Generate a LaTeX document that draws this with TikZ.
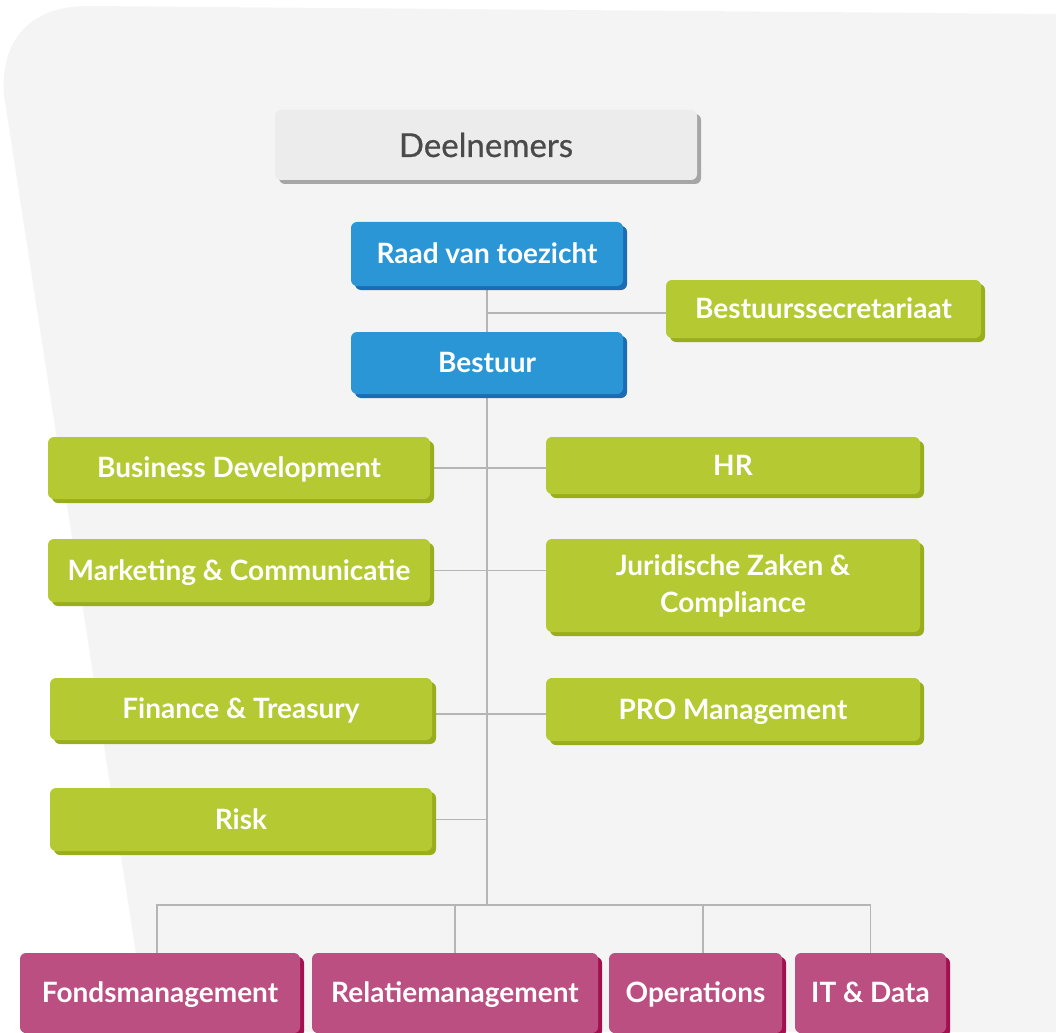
\documentclass[tikz,border=0pt]{standalone}
\usepackage{fontspec}
\setmainfont{Lato}
\newfontface\medfont{Lato}[FakeBold=0.6]
\usetikzlibrary{shadows}
\definecolor{bgc}{HTML}{F4F4F4}
\definecolor{lgreen}{HTML}{B5C932}
\definecolor{dgreen}{HTML}{9AAD1C}
\definecolor{lblue}{HTML}{2A96D6}
\definecolor{dblue}{HTML}{1A6DB5}
\definecolor{lmag}{HTML}{BC4F81}
\definecolor{dmag}{HTML}{A3104F}
\definecolor{lgray}{HTML}{ECECEC}
\definecolor{dgray}{HTML}{A6A6A6}
\definecolor{txtgray}{HTML}{4A4A4A}
\definecolor{linec}{HTML}{B5B5B5}
\pgfdeclarelayer{bg}
\pgfdeclarelayer{lines}
\pgfsetlayers{bg,lines,main}
\tikzset{
  box/.style={rectangle, rounded corners=6pt, inner sep=0pt, align=center,
    font=\fontsize{28}{37}\selectfont\bfseries, text=white},
  oneline/.style={text height=21pt, text depth=2pt},
  gbox/.style={box, fill=lgreen, drop shadow={shadow xshift=4pt, shadow yshift=-4pt, fill=dgreen, opacity=1}},
  bbox/.style={box, oneline, fill=lblue, drop shadow={shadow xshift=4pt, shadow yshift=-4pt, fill=dblue, opacity=1}},
  mbox/.style={box, oneline, fill=lmag, drop shadow={shadow xshift=4pt, shadow yshift=-4pt, fill=dmag, opacity=1}},
  graybox/.style={box, fill=lgray, text=txtgray, font=\fontsize{33}{36}\medfont,
    text height=26pt, text depth=2pt,
    drop shadow={shadow xshift=4pt, shadow yshift=-4pt, fill=dgray, opacity=1}},
  conn/.style={draw=linec, line width=1.5pt}
}
\begin{document}
\begin{tikzpicture}[x=1pt, y=-1pt]
\useasboundingbox (0,0) rectangle (1056,1032);
\begin{scope}
\clip (0,0) rectangle (1056,1032);
\begin{pgfonlayer}{bg}
\fill[bgc] (1056,14) -- (88,6) .. controls (30,6) and (0,40) .. (4,95) -- (148,1032) -- (1056,1032) -- cycle;
\end{pgfonlayer}

\node[graybox, minimum width=422pt, minimum height=70pt] (deel) at (486,145) {Deelnemers};
\node[bbox, minimum width=272pt, minimum height=64pt] (raad) at (487,254) {Raad van toezicht};
\node[bbox, minimum width=272pt, minimum height=62pt] (bestuur) at (487,363) {Bestuur};
\node[gbox, oneline, minimum width=315pt, minimum height=58pt] (secr) at (823.5,309) {Bestuurssecretariaat};
\node[gbox, oneline, minimum width=382pt, minimum height=62pt] (bd) at (239,468) {Business Development};
\node[gbox, oneline, minimum width=374pt, minimum height=57pt] (hr) at (733,465.5) {HR};
\node[gbox, oneline, minimum width=382pt, minimum height=63pt] (mc) at (239,570.5) {Marketing \& Communicatie};
\node[gbox, minimum width=374pt, minimum height=93pt] (jz) at (733,585.5) {Juridische Zaken \&\\Compliance};
\node[gbox, oneline, minimum width=382pt, minimum height=62pt] (ft) at (241,709) {Finance \& Treasury};
\node[gbox, oneline, minimum width=374pt, minimum height=63pt] (pro) at (733,709.5) {PRO Management};
\node[gbox, oneline, minimum width=382pt, minimum height=63pt] (risk) at (241,819.5) {Risk};
\node[mbox, minimum width=280pt, minimum height=80pt] (fonds) at (160,993) {Fondsmanagement};
\node[mbox, minimum width=286pt, minimum height=80pt] (relatie) at (455,993) {Relatiemanagement};
\node[mbox, minimum width=173pt, minimum height=80pt] (oper) at (695.5,993) {Operations};
\node[mbox, minimum width=151pt, minimum height=80pt] (it) at (870.5,993) {IT \& Data};

\coordinate (j1) at (487,313);
\coordinate (bus) at (487,905);
\begin{pgfonlayer}{lines}
\draw[conn] (raad.south) -- (bestuur.north);
\draw[conn] (j1) -- (j1 -| secr.west);
\draw[conn] (bestuur.south) -- (bus);
\draw[conn] (bd.east) -- (bd.east -| hr.west);
\draw[conn] (mc.east) -- (mc.east -| jz.west);
\draw[conn] ([yshift=-5pt]ft.east) -- ([yshift=-5pt]ft.east -| pro.west);
\draw[conn] (risk.east) -- (risk.east -| bus);
\draw[conn] ([xshift=-3pt]fonds.north) |- (bus) -| (it.north);
\draw[conn] (relatie.north) -- (relatie.north |- bus);
\draw[conn] ([xshift=7.5pt]oper.north) -- ([xshift=7.5pt]oper.north |- bus);
\end{pgfonlayer}
\end{scope}
\end{tikzpicture}
\end{document}
